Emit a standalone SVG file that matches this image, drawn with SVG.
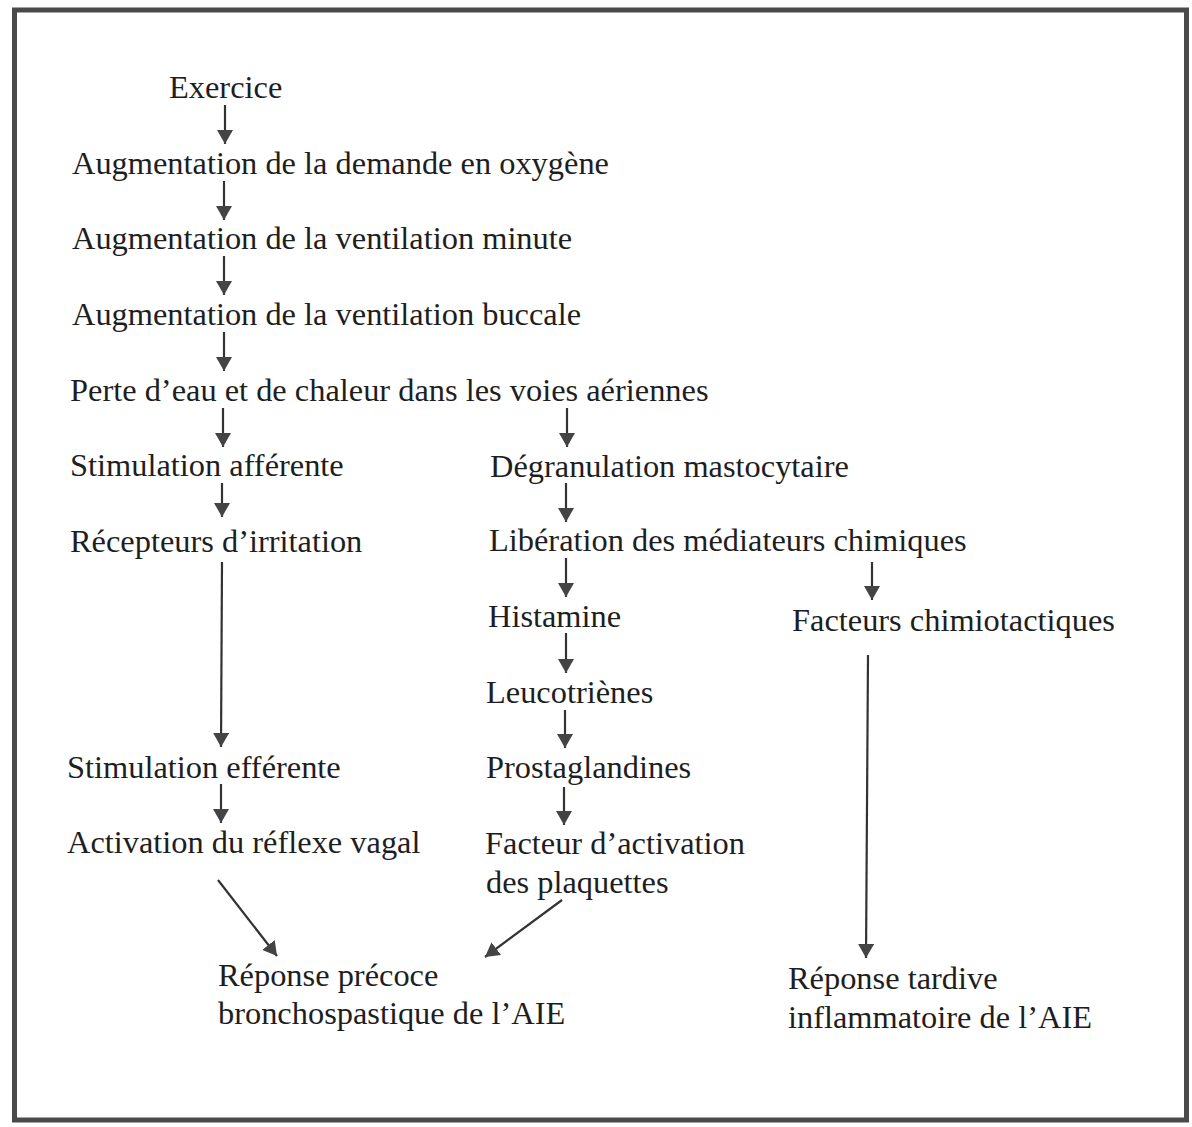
<svg xmlns="http://www.w3.org/2000/svg" width="1192" height="1127" viewBox="0 0 1192 1127">
<style>
.t{font-family:"Liberation Serif","Times New Roman",serif;font-size:32.4px;fill:#1e1e1e;}
.c line{stroke:#333;stroke-width:2.2;marker-end:url(#ah);}
</style>
<defs>
<marker id="ah" viewBox="0 0 14 16" refX="14" refY="8" markerWidth="14" markerHeight="16" markerUnits="userSpaceOnUse" orient="auto">
<path d="M0,0 L14,8 L0,16 z" fill="#444"/>
</marker>
</defs>
<rect x="0" y="0" width="1192" height="1127" fill="#fff"/>
<rect x="14.5" y="10" width="1172" height="1110" fill="none" stroke="#4a4a4a" stroke-width="5"/>
<g id="n-exercice"><text class="t" x="169" y="98">Exercice</text></g>
<g id="n-demande"><text class="t" x="72" y="174">Augmentation de la demande en oxygène</text></g>
<g id="n-ventmin"><text class="t" x="72" y="249">Augmentation de la ventilation minute</text></g>
<g id="n-ventbuc"><text class="t" x="72" y="325">Augmentation de la ventilation buccale</text></g>
<g id="n-perte"><text class="t" x="70" y="401">Perte d’eau et de chaleur dans les voies aériennes</text></g>
<g id="n-stimaff"><text class="t" x="70" y="476">Stimulation afférente</text></g>
<g id="n-recept"><text class="t" x="70" y="552">Récepteurs d’irritation</text></g>
<g id="n-stimeff"><text class="t" x="67" y="778">Stimulation efférente</text></g>
<g id="n-vagal"><text class="t" x="67" y="853">Activation du réflexe vagal</text></g>
<g id="n-degran"><text class="t" x="490" y="477">Dégranulation mastocytaire</text></g>
<g id="n-liber"><text class="t" x="489" y="551">Libération des médiateurs chimiques</text></g>
<g id="n-hista"><text class="t" x="488" y="627">Histamine</text></g>
<g id="n-chimio"><text class="t" x="792" y="631">Facteurs chimiotactiques</text></g>
<g id="n-leuco"><text class="t" x="486" y="703">Leucotriènes</text></g>
<g id="n-prosta"><text class="t" x="486" y="778">Prostaglandines</text></g>
<g id="n-paf"><text class="t" x="485" y="854">Facteur d’activation</text><text class="t" x="486" y="893">des plaquettes</text></g>
<g id="n-precoce"><text class="t" x="218" y="986">Réponse précoce</text><text class="t" x="218" y="1024">bronchospastique de l’AIE</text></g>
<g id="n-tardive"><text class="t" x="788" y="989">Réponse tardive</text><text class="t" x="788" y="1028">inflammatoire de l’AIE</text></g>
<g id="connectors" class="c">
<line x1="225" y1="105" x2="225" y2="144"/>
<line x1="224" y1="181" x2="224" y2="220"/>
<line x1="224" y1="256" x2="224" y2="295"/>
<line x1="224" y1="332" x2="224" y2="371"/>
<line x1="223" y1="408" x2="223" y2="447"/>
<line x1="567" y1="408" x2="567" y2="447"/>
<line x1="222" y1="483" x2="222" y2="517"/>
<line x1="222" y1="562" x2="221" y2="747"/>
<line x1="221" y1="784" x2="221" y2="823"/>
<line x1="566" y1="483" x2="566" y2="522"/>
<line x1="566" y1="558" x2="566" y2="597"/>
<line x1="872" y1="562" x2="872" y2="600"/>
<line x1="566" y1="633" x2="566" y2="673"/>
<line x1="565" y1="710" x2="565" y2="748"/>
<line x1="564" y1="787" x2="564" y2="825"/>
<line x1="868" y1="655" x2="866" y2="958"/>
<line x1="218" y1="880" x2="277" y2="956"/>
<line x1="562" y1="900" x2="485" y2="957"/>
</g>
</svg>
